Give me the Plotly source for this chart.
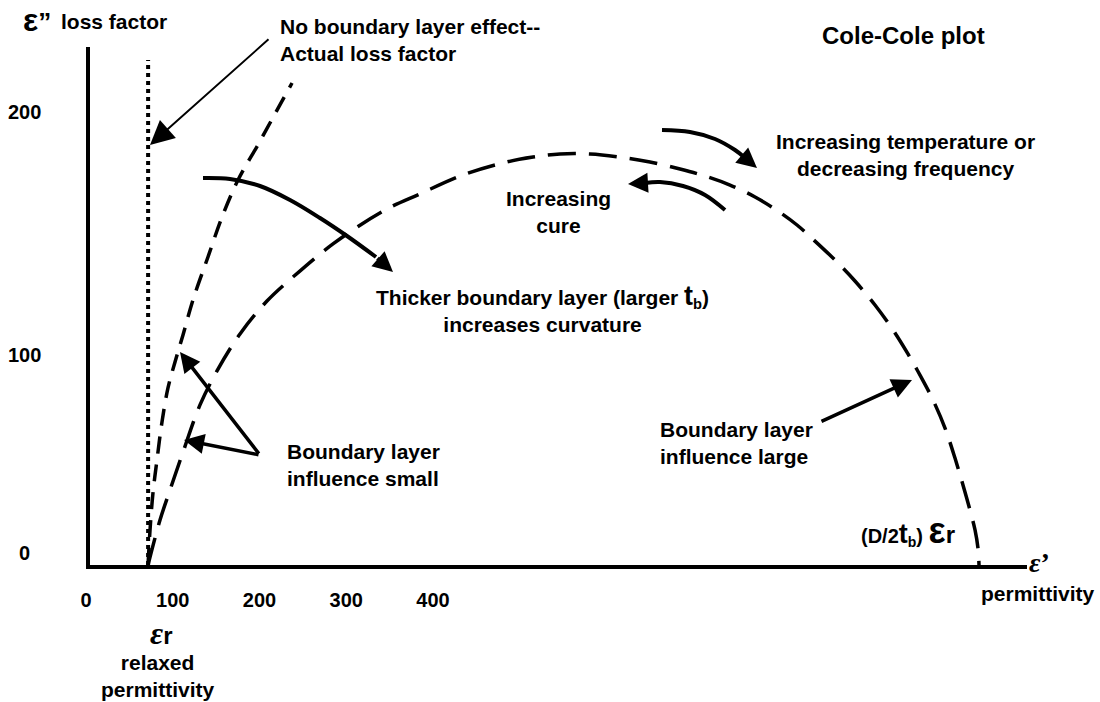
import plotly.graph_objects as go

# ---------------- data (diagram units: x = permittivity e', y = loss factor e'') -------------
eps_relaxed = 67.0          # relaxed permittivity (start of the curves on the e' axis)
dotted_top = 229.0          # top of the "no boundary layer effect" line

# thin boundary layer: steep dashed curve
steep_x = [66.9, 69.2, 72.6, 77.2, 83.0, 89.9, 98.0, 107.2, 118.7, 136.0, 152.2, 170.6, 194.8, 215.6, 232.9]
steep_y = [0.0, 15.9, 32.7, 47.6, 64.9, 80.3, 92.1, 104.3, 120.2, 139.7, 157.8, 174.6, 191.4, 206.3, 218.6]

# thick boundary layer: the large Cole-Cole arc
arc_x = [66.9, 80.7, 92.2, 107.2, 126.8, 146.4, 172.9, 204.0, 234.0, 280.1, 337.8, 380.4, 430.0,
         480.7, 510.7, 541.8, 576.4, 610.9, 645.5, 680.1, 708.9, 737.8, 766.6, 793.1, 815.0,
         835.7, 858.8, 881.8, 904.9, 925.6, 942.9, 957.9, 971.8, 985.6, 997.1, 1006.3, 1014.4,
         1020.2, 1023.6, 1024.8]
arc_y = [0.0, 20.4, 34.0, 51.2, 72.6, 88.0, 104.8, 119.7, 130.6, 145.6, 160.5, 168.3, 176.9,
         182.8, 185.0, 186.4, 186.4, 185.0, 182.8, 179.6, 176.4, 172.3, 166.9, 160.5, 154.2,
         146.9, 138.3, 128.8, 117.9, 106.6, 95.7, 85.3, 74.8, 62.1, 48.5, 36.3, 24.9,
         15.9, 7.7, 0.0]

x_tick_values = [0, 100, 200, 300, 400]
x_tick_labels = ["0", "100", "200", "300", "400"]
y_tick_values = [0, 100, 200]
y_tick_labels = ["0", "100", "200"]

# ---------------- layout geometry ----------------
W, H = 1100, 702
ML, MT, MR, MB = 90, 47, 73, 137
KX, KY = 0.8675, 2.205                  # pixels per diagram unit
PW, PH = W - ML - MR, H - MT - MB
Y_LABEL_SHIFT = [12, -10, 12]           # hand-placed tick label offsets (px)


def PX(px):
    return (px - ML) / PW


def PY(py):
    return (H - MB - py) / PH


def DX(px):
    return (px - ML) / KX


def DY(py):
    return (H - MB - py) / KY


FONT = "Liberation Sans, Arial, sans-serif"
SERIF = "Liberation Serif, Times New Roman, serif"
BLACK = "#000000"

fig = go.Figure()

# dotted vertical line: actual loss factor
fig.add_trace(go.Scatter(x=[eps_relaxed, eps_relaxed], y=[0, dotted_top], mode="lines",
                         line=dict(color=BLACK, width=4, dash="4px,4px"), hoverinfo="skip"))
# steep dashed curve
fig.add_trace(go.Scatter(x=steep_x, y=steep_y, mode="lines", line_shape="spline",
                         line=dict(color=BLACK, width=3.5, dash="17px,11px"), hoverinfo="skip"))
# large arc
fig.add_trace(go.Scatter(x=arc_x, y=arc_y, mode="lines", line_shape="spline",
                         line=dict(color=BLACK, width=3.5, dash="28px,13px"), hoverinfo="skip"))

# curved arrows (pixel geometry of the diagram)
curved_arrows = [
    ([(203, 178), (230, 179), (260, 186), (290, 200), (320, 218), (347, 236), (376, 257)], (393, 272)),
    ([(662, 130), (690, 132), (715, 139), (735, 150), (744, 157)], (757, 168)),
    ([(725, 210), (705, 195), (683, 186), (660, 182), (645, 183)], (628, 184)),
]
annotations = []
for path, tip in curved_arrows:
    fig.add_trace(go.Scatter(x=[DX(p[0]) for p in path], y=[DY(p[1]) for p in path],
                             mode="lines", line_shape="spline",
                             line=dict(color=BLACK, width=4), hoverinfo="skip"))
    tail = path[-1]
    annotations.append(dict(xref="paper", yref="paper", x=PX(tip[0]), y=PY(tip[1]),
                            ax=tail[0] - tip[0], ay=tail[1] - tip[1], text="",
                            showarrow=True, arrowhead=2, arrowwidth=4, arrowsize=1.0,
                            arrowcolor=BLACK, standoff=0))

# straight arrows: (tail, tip, width, size)
straight_arrows = [
    ((270, 38), (150, 145), 2, 2.4),
    ((260, 455), (180, 352), 3.5, 1.15),
    ((260, 455), (184, 440), 3.5, 1.15),
    ((820, 422), (912, 380), 3.5, 1.15),
]
for tail, tip, w, s in straight_arrows:
    annotations.append(dict(xref="paper", yref="paper", x=PX(tip[0]), y=PY(tip[1]),
                            ax=tail[0] - tip[0], ay=tail[1] - tip[1], text="",
                            showarrow=True, arrowhead=2, arrowwidth=w, arrowsize=s,
                            arrowcolor=BLACK, standoff=0))


def label(text, px, py, size=21, xanchor="center", align="center", family=FONT):
    annotations.append(dict(xref="paper", yref="paper", x=PX(px), y=PY(py), text=text,
                            showarrow=False, xanchor=xanchor, yanchor="middle", align=align,
                            font=dict(family=family, size=size, color=BLACK)))


# y tick labels
for v, t, sh in zip(y_tick_values, y_tick_labels, Y_LABEL_SHIFT):
    annotations.append(dict(xref="paper", yref="paper", x=PX(24), y=v * KY / PH, yshift=sh,
                            text="<b>%s</b>" % t, showarrow=False, xanchor="center",
                            yanchor="middle", font=dict(family=FONT, size=20, color=BLACK)))

label("<b><span style='font-size:32px'>ε</span><span style='font-size:26px'>”</span></b>", 21, 20,
      xanchor="left")
label("<b>loss factor</b>", 59, 21, xanchor="left")
label("<b>No boundary layer effect--<br>Actual loss factor</b>", 278, 40, xanchor="left", align="left")
label("<b>Cole-Cole plot</b>", 903, 35, size=24)
label("<b>Increasing temperature or<br>decreasing frequency</b>", 905, 155)
label("<b>Increasing<br>cure</b>", 558, 212)
label("<b>Thicker boundary layer (larger <span style='font-size:27px'>t</span><sub>b</sub>)"
      "<br>increases curvature</b>", 542, 308)
label("<b>Boundary layer<br>influence small</b>", 285, 465, xanchor="left", align="left")
label("<b>Boundary layer<br>influence large</b>", 658, 443, xanchor="left", align="left")
label("<b>(D/2<span style='font-size:27px'>t</span><sub>b</sub>) "
      "<span style='font-size:36px'>ε</span><span style='font-size:24px'>r</span></b>", 908, 530,
      size=20)
label("<b><i>ε</i>’</b>", 1039, 562, size=28, family=SERIF)
label("<b>permittivity</b>", 1038, 593)
label("<b><i><span style='font-family:Liberation Serif;font-size:32px'>ε</span></i>r</b>", 161, 633, size=24)
label("<b>relaxed<br>permittivity</b>", 158, 676)

fig.update_layout(
    width=W, height=H,
    margin=dict(l=ML, r=MR, t=MT, b=MB, pad=0),
    paper_bgcolor="white", plot_bgcolor="white",
    showlegend=False,
    annotations=annotations,
    xaxis=dict(range=[0, PW / KX], showgrid=False, zeroline=False, showline=True,
               linewidth=4, linecolor=BLACK, ticks="", tickvals=x_tick_values,
               ticktext=x_tick_labels, ticklabelstandoff=14, ticklabelshift=-4,
               tickfont=dict(family=FONT, size=20, color=BLACK, weight="bold"), fixedrange=True),
    yaxis=dict(range=[0, PH / KY], showgrid=False, zeroline=False, showline=True,
               linewidth=4, linecolor=BLACK, showticklabels=False, ticks="", fixedrange=True),
)

fig.write_html("out.html", config={"displayModeBar": False},
               post_script="document.body.style.margin='0';")
